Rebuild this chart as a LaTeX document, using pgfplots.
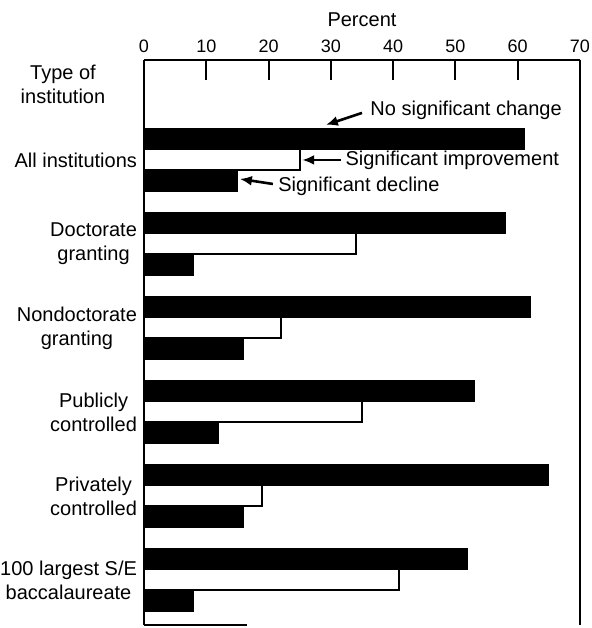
\documentclass[border=0pt]{standalone}
\usepackage{fontspec}
\setmainfont{Liberation Sans}
\usepackage{pgfplots}
\pgfplotsset{compat=1.18}
\usetikzlibrary{arrows.meta}
\begin{document}
\begin{tikzpicture}
\begin{axis}[
  at={(0,0)}, anchor=south west,
  scale only axis, width=218pt, height=282.5pt,
  xmin=0, xmax=70, ymin=-5.536, ymax=1.19,
  axis x line*=top, axis y line*=box,
  axis line style={line width=1pt},
  xtick={0,10,...,70},
  x tick style={line width=1pt, black},
  major tick length=10pt,
  tick align=inside,
  xticklabel style={font=\small},
  /pgf/number format/assume math mode=true,
  xlabel={Percent},
  xlabel style={yshift=0pt},
  ytick={-5,-4,-3,-2,-1,0},
  yticklabels={{100 largest S/E\\baccalaureate},{Privately\\controlled},{Publicly\\controlled},{Nondoctorate\\granting},{Doctorate\\granting},{All institutions}},
  yticklabel style={align=center, xshift=10pt},
  y tick style={draw=none},
  xbar, bar width=0.25, bar shift=0pt,
  clip=false,
]
% No significant change
\addplot[fill=black, draw=black] coordinates {
  (61,0.25) (58,-0.75) (62,-1.75) (53,-2.75) (65,-3.75) (52,-4.75)};
% Significant improvement
\addplot[fill=white, draw=black, line width=1pt] coordinates {
  (25,0) (34,-1) (22,-2) (35,-3) (19,-4) (41,-5)};
% Significant decline
\addplot[fill=black, draw=black] coordinates {
  (15,-0.25) (8,-1.25) (16,-2.25) (12,-3.25) (16,-4.25) (8,-5.25)};

\node[anchor=west, inner sep=0pt] at (axis cs:36.3,0.595) {No significant change};
\draw[line width=1.3pt, -{Latex[length=6pt,width=5pt]}] (axis cs:35.0,0.56) -- (axis cs:29.2,0.417);
\node[anchor=west, inner sep=0pt] at (axis cs:32.3,-0.01) {Significant improvement};
\draw[line width=1.3pt, -{Latex[length=6pt,width=5pt]}] (axis cs:31.6,0) -- (axis cs:25.4,0);
\node[anchor=west, inner sep=0pt] at (axis cs:21.5,-0.31) {Significant decline};
\draw[line width=1.3pt, -{Latex[length=6pt,width=5pt]}] (axis cs:20.7,-0.286) -- (axis cs:15.4,-0.226);

\node[align=center, xshift=-40.5pt] at (axis cs:0,0.905) {Type of\\institution};
\draw[line width=1pt] (axis cs:0,-5.536) -- (axis cs:16.5,-5.536);
\end{axis}
\pgfresetboundingbox
\path[use as bounding box] (-72pt,-1.5pt) rectangle (224pt,312.5pt);
\end{tikzpicture}
\end{document}
